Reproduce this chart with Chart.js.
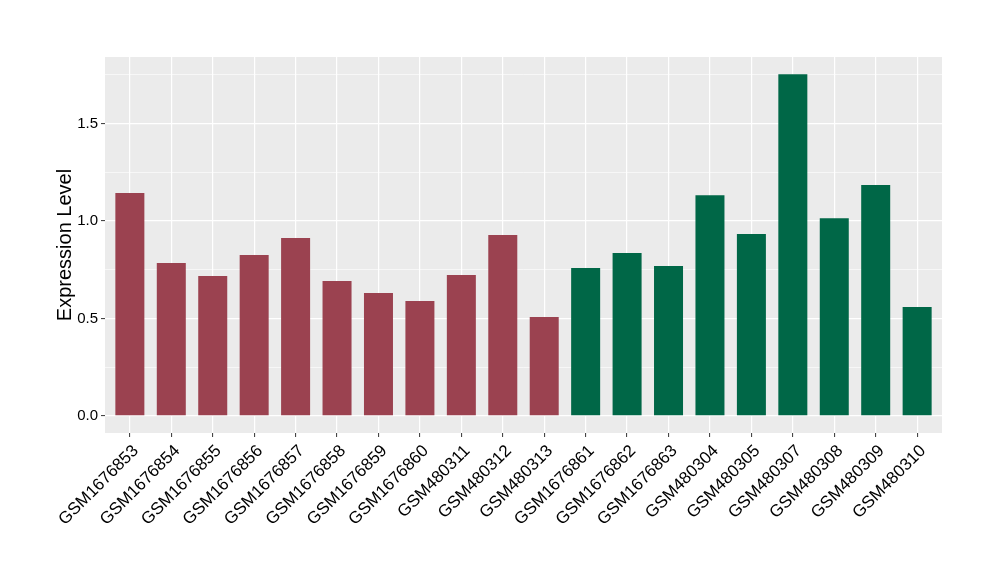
<!DOCTYPE html>
<html>
<head>
<meta charset="utf-8">
<script src="https://cdn.jsdelivr.net/npm/chart.js@4/dist/chart.umd.min.js"></script>
<style>
  body { margin: 0; background: #fff; }
  canvas { display: block; }
</style>
</head>
<body>
<canvas id="exprChart" width="1000" height="580"></canvas>
<script>
// sample names, expression values and group of each sample
const categories = [
    'GSM1676853', 'GSM1676854', 'GSM1676855', 'GSM1676856', 'GSM1676857',
    'GSM1676858', 'GSM1676859', 'GSM1676860', 'GSM480311', 'GSM480312',
    'GSM480313', 'GSM1676861', 'GSM1676862', 'GSM1676863', 'GSM480304',
    'GSM480305', 'GSM480307', 'GSM480308', 'GSM480309', 'GSM480310'
];
const values = [
    1.144, 0.785, 0.718, 0.826, 0.913, 0.692, 0.631, 0.590, 0.723, 0.928,
    0.508, 0.759, 0.836, 0.769, 1.133, 0.933, 1.754, 1.015, 1.185, 0.559
];
const groups = [
    'A', 'A', 'A', 'A', 'A', 'A', 'A', 'A', 'A', 'A',
    'A', 'B', 'B', 'B', 'B', 'B', 'B', 'B', 'B', 'B'
];
const yTicks = [0, 0.25, 0.5, 0.75, 1.0, 1.25, 1.5, 1.75];

const groupColors = { A: '#9B4250', B: '#006747' };
const isMajor = v => Math.abs(v * 2 - Math.round(v * 2)) < 1e-6;

// grey ggplot-like panel behind the grid
const panelBg = {
    id: 'panelBg',
    beforeDraw(chart) {
        const { ctx, chartArea: a } = chart;
        ctx.save();
        ctx.fillStyle = '#EBEBEB';
        ctx.fillRect(a.left, a.top, a.right - a.left, a.bottom - a.top);
        ctx.restore();
    }
};

const ctx = document.getElementById('exprChart').getContext('2d');
new Chart(ctx, {
    type: 'bar',
    data: {
        datasets: [{
            data: values.map((v, i) => ({ x: i, y: v })),
            backgroundColor: groups.map(g => groupColors[g]),
            categoryPercentage: 1.0,
            barPercentage: 0.7
        }]
    },
    options: {
        responsive: false,
        animation: false,
        devicePixelRatio: 1,
        layout: { padding: { top: 57, right: 58, left: 0, bottom: 0 } },
        plugins: { legend: { display: false }, tooltip: { enabled: false } },
        scales: {
            x: {
                type: 'linear',
                offset: false,
                min: -0.6,
                max: categories.length - 0.4,
                afterBuildTicks: s => { s.ticks = categories.map((c, i) => ({ value: i })); },
                afterFit: s => { s.height = 147; },
                border: { display: false },
                grid: { offset: false, color: '#fff', lineWidth: 1.2, tickColor: '#333', tickWidth: 1, tickLength: 4 },
                ticks: {
                    autoSkip: false,
                    maxRotation: 45,
                    minRotation: 45,
                    padding: 4,
                    labelOffset: 6,
                    color: '#000',
                    font: { family: 'Liberation Sans', size: 17 },
                    callback: v => categories[v]
                }
            },
            y: {
                min: -0.0877,
                max: 1.842,
                afterBuildTicks: s => { s.ticks = yTicks.map(v => ({ value: v })); },
                afterFit: s => { s.width = 105; },
                border: { display: false },
                grid: {
                    color: '#fff',
                    lineWidth: c => (c.tick && isMajor(c.tick.value) ? 1.2 : 0.6),
                    tickColor: c => (c.tick && isMajor(c.tick.value) ? '#333' : 'rgba(0,0,0,0)'),
                    tickWidth: 1,
                    tickLength: 4
                },
                ticks: {
                    padding: 3,
                    color: '#000',
                    font: { family: 'Liberation Sans', size: 15 },
                    callback: v => (isMajor(v) ? v.toFixed(1) : '')
                },
                title: {
                    display: true,
                    text: 'Expression Level',
                    color: '#000',
                    font: { family: 'Liberation Sans', size: 20 },
                    padding: { top: 53, bottom: 0 }
                }
            }
        }
    },
    plugins: [panelBg]
});
</script>
</body>
</html>
